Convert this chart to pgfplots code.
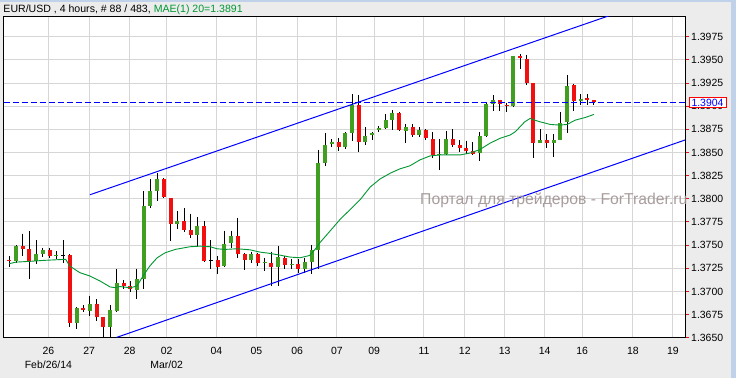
\documentclass[border=0pt]{standalone}
\usepackage{fontspec}
\setmainfont{Liberation Sans}
\usepackage{pgfplots}
\usepackage{pgfplotstable}
\pgfplotsset{compat=1.18}

\definecolor{bgc}{RGB}{236,236,236}
\definecolor{gridc}{RGB}{214,214,214}
\definecolor{cgreen}{RGB}{64,158,32}
\definecolor{cred}{RGB}{240,16,16}
\definecolor{magreen}{RGB}{0,150,50}
\definecolor{wm}{RGB}{160,146,146}
\definecolor{edgeblue}{RGB}{192,210,234}

\pgfplotstableread{
i o h l c
1 1.37328 1.37504 1.37311 1.37489
4 1.37325 1.37553 1.37300 1.37400
5 1.37403 1.37472 1.37368 1.37443
7 1.37382 1.37435 1.37354 1.37391
10 1.36659 1.36828 1.36594 1.36817
12 1.36791 1.36952 1.36737 1.36860
15 1.36616 1.36852 1.36470 1.36799
16 1.36791 1.37246 1.36774 1.37096
19 1.37019 1.37246 1.36924 1.37135
20 1.37131 1.38087 1.37024 1.37926
21 1.37926 1.38213 1.37897 1.38087
22 1.38087 1.38277 1.37972 1.38216
25 1.37729 1.37865 1.37679 1.37765
28 1.37607 1.37805 1.37496 1.37711
32 1.37274 1.37658 1.37263 1.37515
33 1.37525 1.37658 1.37472 1.37604
36 1.37335 1.37429 1.37311 1.37407
38 1.37309 1.37364 1.37221 1.37314
40 1.37263 1.37489 1.37059 1.37371
42 1.37289 1.37346 1.37239 1.37296
44 1.37239 1.37364 1.37196 1.37321
45 1.37321 1.37507 1.37185 1.37443
46 1.37443 1.38527 1.37239 1.38391
47 1.38385 1.38713 1.38356 1.38581
48 1.38589 1.38642 1.38556 1.38616
50 1.38556 1.38724 1.38535 1.38707
51 1.38707 1.39129 1.38627 1.39011
53 1.38613 1.38774 1.38581 1.38678
54 1.38685 1.38724 1.38635 1.38707
55 1.38742 1.38785 1.38724 1.38767
56 1.38760 1.38911 1.38750 1.38849
57 1.38849 1.38957 1.38742 1.38928
59 1.38735 1.38803 1.38599 1.38778
61 1.38688 1.38778 1.38664 1.38742
64 1.38478 1.38642 1.38313 1.38484
65 1.38484 1.38731 1.38474 1.38642
70 1.38492 1.38724 1.38412 1.38678
71 1.38678 1.39035 1.38670 1.39029
72 1.39029 1.39118 1.38949 1.39072
75 1.39000 1.39537 1.38986 1.39537
79 1.38599 1.38753 1.38599 1.38635
81 1.38599 1.38696 1.38455 1.38635
82 1.38635 1.38939 1.38635 1.38814
83 1.38831 1.39340 1.38707 1.39215
85 1.39053 1.39129 1.39011 1.39082
}\greentab

\pgfplotstableread{
i o h l c
0 1.37335 1.37382 1.37263 1.37325
2 1.37486 1.37625 1.37382 1.37454
3 1.37454 1.37658 1.37131 1.37321
6 1.37443 1.37464 1.37360 1.37382
9 1.37392 1.37403 1.36619 1.36659
11 1.36823 1.36852 1.36774 1.36802
13 1.36863 1.36917 1.36680 1.36723
14 1.36727 1.36727 1.36470 1.36619
17 1.37096 1.37121 1.37024 1.37064
18 1.37059 1.37113 1.36989 1.37024
23 1.38216 1.38223 1.38009 1.38019
24 1.38009 1.38009 1.37543 1.37729
26 1.37765 1.37901 1.37644 1.37668
27 1.37668 1.37840 1.37579 1.37607
29 1.37711 1.37765 1.37320 1.37328
31 1.37335 1.37382 1.37185 1.37263
34 1.37604 1.37794 1.37364 1.37403
35 1.37405 1.37418 1.37231 1.37335
37 1.37400 1.37418 1.37274 1.37311
39 1.37311 1.37429 1.37059 1.37263
41 1.37364 1.37382 1.37239 1.37285
43 1.37292 1.37346 1.37203 1.37239
49 1.38616 1.38653 1.38520 1.38556
52 1.39011 1.39118 1.38503 1.38616
58 1.38928 1.38939 1.38731 1.38742
60 1.38778 1.38803 1.38670 1.38688
62 1.38742 1.38750 1.38635 1.38653
63 1.38642 1.38724 1.38438 1.38474
66 1.38642 1.38750 1.38563 1.38581
67 1.38581 1.38635 1.38509 1.38552
68 1.38546 1.38627 1.38484 1.38520
69 1.38517 1.38616 1.38474 1.38484
73 1.39064 1.39064 1.38949 1.39021
74 1.39011 1.39035 1.38939 1.39000
76 1.39537 1.39566 1.39405 1.39515
77 1.39512 1.39555 1.39225 1.39250
78 1.39250 1.39250 1.38438 1.38606
80 1.38635 1.38696 1.38546 1.38606
84 1.39225 1.39244 1.38949 1.39057
86 1.39093 1.39129 1.39011 1.39064
87 1.39064 1.39064 1.39011 1.39043
}\redtab

\pgfplotstableread{
i o h l c
8 1.37389 1.37553 1.37311 1.37389
30 1.37335 1.37553 1.37239 1.37335
}\dojitab

\pgfplotstableread{
i v
0 1.37300
1 1.37317
3 1.37325
5 1.37335
8 1.37346
8.4 1.37346
9.0 1.37274
10.5 1.37203
12.0 1.37167
13.5 1.37113
15.0 1.37049
15.7 1.37042
16.5 1.37053
18.0 1.37040
19.0 1.37059
19.9 1.37167
20.9 1.37274
22.0 1.37364
23.2 1.37418
24.7 1.37454
26.9 1.37483
28.4 1.37489
29.9 1.37483
30.9 1.37461
32.1 1.37454
33.9 1.37461
35.8 1.37450
37.3 1.37425
38.8 1.37411
40.3 1.37392
41.8 1.37371
43.3 1.37364
44.7 1.37389
45.5 1.37454
46.2 1.37525
47.7 1.37650
49.2 1.37776
50.7 1.37883
52.2 1.37990
53.7 1.38127
55.2 1.38216
56.7 1.38277
58.1 1.38323
59.6 1.38356
61.1 1.38420
62.6 1.38463
64.1 1.38474
67.1 1.38474
68.6 1.38495
70.0 1.38531
71.5 1.38599
73.0 1.38653
74.5 1.38688
75.3 1.38724
76.0 1.38778
76.7 1.38831
77.5 1.38868
78.2 1.38849
79.0 1.38831
80.5 1.38803
81.9 1.38796
83.0 1.38803
84.2 1.38849
85.7 1.38878
87.0 1.38911
}\matab

\begin{document}
\begin{tikzpicture}
\fill[bgc] (-3.5bp,-40.2bp) rectangle (732.5bp,337.8bp);
\fill[edgeblue] (-3.5bp,335.8bp) rectangle (732.5bp,337.8bp);
\fill[edgeblue] (727.8bp,-40.2bp) rectangle (732.5bp,337.8bp);
\begin{axis}[
  at={(0bp,0bp)}, anchor=south west,
  scale only axis, width=681.5bp, height=321.1bp,
  xmin=-0.863, xmax=100.55, ymin=1.3650, ymax=1.39966,
  axis background/.style={fill=white},
  axis line style={line width=1bp, black},
  grid=major, major grid style={draw=gridc, line width=1bp},
  xtick={5.82,11.89,17.90,23.42,30.82,36.76,42.84,48.76,54.30,61.71,67.78,73.72,79.66,85.25,92.80,98.74},
  xticklabels={26\\Feb/26/14,27,28,02\\Mar/02,04,05,06,07,09,11,12,13,14,16,18,19},
  xtick pos=bottom,
  xtick style={draw=none},
  xticklabel style={align=center, font=\fontsize{10.5}{14}\selectfont, yshift=-1.5bp},
  ytick={1.3650,1.3675,1.3700,1.3725,1.3750,1.3775,1.3800,1.3825,1.3850,1.3875,1.3900,1.3925,1.3950,1.3975},
  yticklabels={1.3650,1.3675,1.3700,1.3725,1.3750,1.3775,1.3800,1.3825,1.3850,1.3875,1.3900,1.3925,1.3950,1.3975},
  ytick pos=right, yticklabel pos=right,
  tick align=outside, major tick length=4bp,
  ytick style={draw=cred, line width=1bp},
  yticklabel style={font=\fontsize{10.5}{12}\selectfont, inner sep=2bp},
  scaled y ticks=false,
  clip=true,
]
% wicks
\addplot[draw=none, mark=none, forget plot, error bars/.cd, y dir=minus, y explicit, error mark=none, error bar style={draw=black, line width=1bp}]
  table[x=i, y=h, y error minus expr=\thisrow{h}-\thisrow{l}] {\greentab};
\addplot[draw=none, mark=none, forget plot, error bars/.cd, y dir=minus, y explicit, error mark=none, error bar style={draw=black, line width=1bp}]
  table[x=i, y=h, y error minus expr=\thisrow{h}-\thisrow{l}] {\redtab};
\addplot[draw=none, mark=none, forget plot, error bars/.cd, y dir=minus, y explicit, error mark=none, error bar style={draw=black, line width=1bp}]
  table[x=i, y=h, y error minus expr=\thisrow{h}-\thisrow{l}] {\dojitab};
% bodies
\addplot[draw=none, mark=none, forget plot, error bars/.cd, y dir=minus, y explicit, error mark=none, error bar style={draw=cgreen, line width=4bp}]
  table[x=i, y=c, y error minus expr=\thisrow{c}-\thisrow{o}] {\greentab};
\addplot[draw=none, mark=none, forget plot, error bars/.cd, y dir=minus, y explicit, error mark=none, error bar style={draw=cred, line width=4bp}]
  table[x=i, y=o, y error minus expr=\thisrow{o}-\thisrow{c}] {\redtab};
\addplot[only marks, mark=-, mark size=2bp, mark options={draw=black, line width=1bp}, forget plot]
  table[x=i, y=o] {\dojitab};
% moving average
\addplot[magreen, line width=0.9bp, mark=none] table[x=i, y=v] {\matab};
% channel
\addplot[blue, line width=1bp, mark=none] coordinates {(12.0,1.38044) (90.0,1.39995)};
\addplot[blue, line width=1bp, mark=none] coordinates {(16.0,1.36505) (100.55,1.38635)};
% last price line
\addplot[blue, line width=1bp, dashed, dash pattern=on 6bp off 3bp, mark=none] coordinates {(-0.863,1.3904) (100.55,1.3904)};
\coordinate (lastp) at (axis cs:100.55,1.3904);
\end{axis}
\node[draw=red, line width=1bp, fill=white, text=blue, anchor=west, inner xsep=2.5bp, inner ysep=1.5bp, font=\fontsize{10.5}{12}\selectfont] at ([xshift=3.5bp]lastp) {1.3904};
\node[anchor=base west, inner sep=0pt, font=\fontsize{10.6}{12}\selectfont] at (-0.2bp,324.8bp) {EUR/USD , 4 hours, \# 88 / 483, \textcolor{magreen}{MAE(1) 20=1.3891}};
\node[anchor=base west, inner sep=0pt, text=wm, opacity=0.9, font=\fontsize{15.8}{18}\selectfont] at (416.5bp,132.8bp) {Портал для трейдеров - ForTrader.ru};
\end{tikzpicture}
\end{document}
